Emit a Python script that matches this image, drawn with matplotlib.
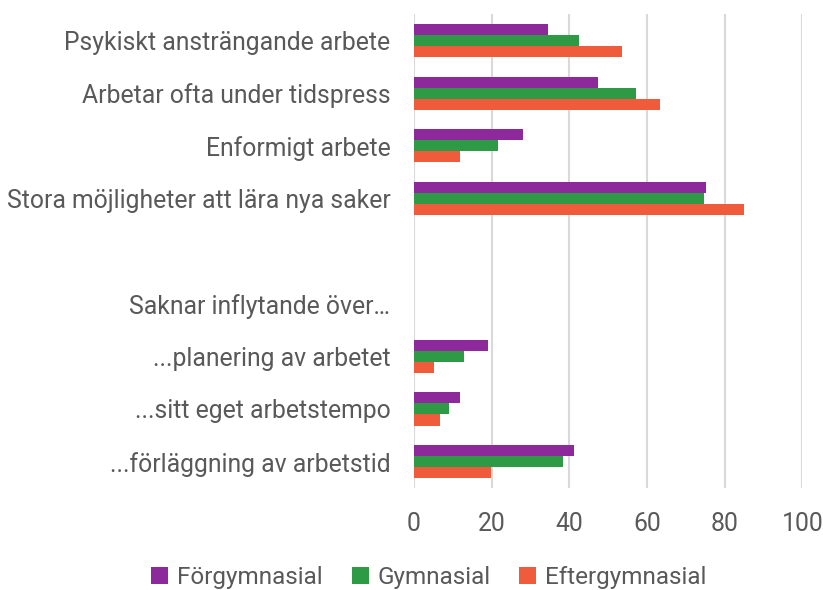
import numpy as np
import matplotlib.pyplot as plt

plt.rcParams['font.family'] = ['Roboto', 'DejaVu Sans']

categories = [
    "Psykiskt ansträngande arbete",
    "Arbetar ofta under tidspress",
    "Enformigt arbete",
    "Stora möjligheter att lära nya saker",
    "",
    "Saknar inflytande över…",
    "...planering av arbetet",
    "...sitt eget arbetstempo",
    "...förläggning av arbetstid",
]
nan = np.nan
forgymnasial = [34.4, 47.5, 28.0, 75.2, nan, nan, 19.0, 11.9, 41.2]
gymnasial = [42.5, 57.2, 21.6, 74.6, nan, nan, 12.8, 9.0, 38.3]
eftergymnasial = [53.6, 63.4, 11.9, 84.9, nan, nan, 5.2, 6.8, 19.9]

series = [
    ("Förgymnasial", forgymnasial, "#8E299B"),
    ("Gymnasial", gymnasial, "#2F9A46"),
    ("Eftergymnasial", eftergymnasial, "#F05B3C"),
]
text_color = "#595959"
fs = 17.8

fig = plt.figure(figsize=(8.23, 5.9), dpi=100)
ax = fig.add_axes([0.503, 0.173, 0.472, 0.803])

y = np.arange(len(categories))
h = 0.21
for i, (name, vals, color) in enumerate(series):
    ax.barh(y + (i - 1) * h, vals, height=h, color=color, label=name, zorder=3)

ax.set_ylim(len(categories) - 0.5, -0.5)
ax.set_xlim(0, 100)
ax.set_xticks(range(0, 101, 20))
ax.set_yticks(y)
ax.set_yticklabels(categories)
ax.tick_params(axis='both', length=0, labelsize=fs, colors=text_color)
ax.tick_params(axis='y', pad=17)
ax.tick_params(axis='x', pad=17)
for s in ax.spines.values():
    s.set_visible(False)
ax.grid(axis='x', color="#D9D9D9", linewidth=1.5, zorder=0)
ax.set_axisbelow(True)

fig.legend(loc='lower center', bbox_to_anchor=(0.521, -0.035), ncol=3, frameon=False,
           fontsize=17.5, labelcolor=text_color, handlelength=0.7, handleheight=0.7,
           handletextpad=0.35, columnspacing=1.2)

fig.savefig("out.png", dpi=100)
